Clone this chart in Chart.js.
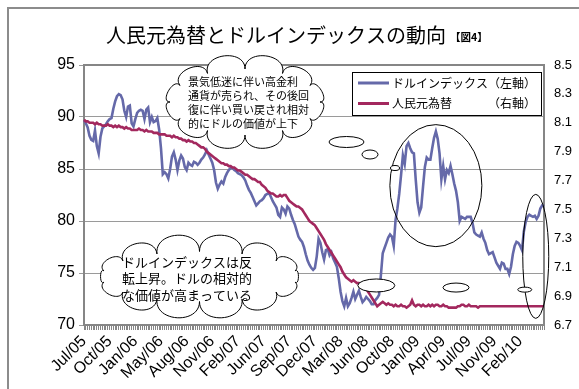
<!DOCTYPE html>
<html>
<head>
<meta charset="utf-8">
<script src="https://cdn.jsdelivr.net/npm/chart.js@4.4.1/dist/chart.umd.min.js"></script>
<style>
  html, body { margin: 0; padding: 0; background: #fff; }
  canvas { display: block; }
</style>
</head>
<body>
<canvas id="chart" width="579" height="389"></canvas>
<script>
// Axis tick labels, one every 14 weeks
const tickLabels = ['Jul/05','Oct/05','Jan/06','May/06','Aug/06','Nov/06','Feb/07','Jun/07','Sep/07','Dec/07',
  'Mar/08','Jun/08','Oct/08','Jan/09','Apr/09','Jul/09','Nov/09','Feb/10'];
const labelEvery = 14;

// Dollar index, weekly (left axis)
const dollarIndex = [
  89.7, 89.4, 89.0, 88.2, 87.8, 87.7, 88.7, 87.2, 86.5, 88.1,
  88.9, 89.1, 89.3, 89.6, 89.8, 89.9, 90.8, 91.5, 92.0, 92.2,
  92.1, 91.7, 90.6, 90.0, 91.0, 91.1, 89.4, 89.1, 89.8, 90.4,
  90.6, 90.7, 90.6, 89.8, 90.7, 90.9, 89.5, 90.0, 89.5, 89.6,
  89.9, 88.8, 87.0, 84.5, 84.7, 84.5, 84.1, 85.0, 86.2, 86.6,
  85.9, 84.9, 85.8, 86.3, 86.0, 85.2, 84.9, 85.6, 85.4, 85.3,
  85.7, 85.6, 85.4, 85.6, 85.9, 86.1, 86.4, 86.8, 86.4, 86.0,
  85.6, 84.9, 83.7, 83.1, 83.5, 83.8, 83.6, 84.2, 84.6, 84.9,
  85.1, 85.1, 84.9, 84.8, 84.6, 84.5, 84.4, 84.2, 83.9, 83.4,
  83.0, 82.7, 82.3, 81.9, 81.5, 81.7, 81.9, 82.0, 82.2, 82.5,
  82.6, 82.7, 82.3, 81.9, 81.6, 81.3, 80.6, 80.4, 81.3, 81.1,
  80.7, 81.4, 81.2, 80.6, 80.1, 79.7, 79.1, 78.5, 78.2, 78.0,
  77.5, 76.8, 76.2, 75.8, 75.5, 75.3, 75.5, 76.6, 78.3, 77.9,
  77.0, 76.3, 77.2, 77.3, 76.7, 77.0, 76.4, 76.0, 75.6, 74.5,
  73.2, 72.3, 71.8, 72.6, 71.8, 72.1, 72.6, 73.2, 72.5, 72.9,
  73.3, 72.7, 72.2, 72.4, 72.7, 72.5, 72.3, 72.0, 72.0, 72.4,
  72.6, 72.9, 74.8, 76.9, 77.4, 77.9, 78.4, 78.7, 78.5, 77.6,
  80.1, 81.2, 82.6, 84.4, 86.3, 85.5, 87.2, 87.5, 87.0, 86.6,
  86.5, 84.0, 81.8, 80.8, 81.3, 83.3, 85.2, 86.1, 85.9, 85.9,
  87.0, 88.0, 88.6, 87.9, 86.5, 84.0, 85.3, 84.0, 84.9, 84.6,
  85.3, 84.5, 83.6, 82.9, 81.8, 80.0, 80.4, 80.3, 80.2, 80.4,
  80.4, 80.4, 79.8, 78.9, 78.7, 78.6, 78.5, 78.9, 78.3, 77.9,
  77.2, 76.8, 76.9, 77.0, 76.5, 76.0, 75.7, 75.4, 76.0, 75.9,
  75.4, 75.4, 74.9, 75.6, 76.8, 77.6, 78.0, 77.9, 77.6, 77.2,
  79.0, 79.9, 80.4, 80.6, 80.5, 80.4, 80.5, 80.2, 80.5, 81.2,
  81.5, 81.4
];

// Yuan per dollar, weekly (right axis)
const yuanRate = [
  8.12, 8.11, 8.11, 8.10, 8.10, 8.10, 8.09, 8.10, 8.09, 8.09,
  8.08, 8.08, 8.08, 8.09, 8.08, 8.08, 8.07, 8.08, 8.07, 8.08,
  8.07, 8.07, 8.06, 8.07, 8.06, 8.06, 8.05, 8.05, 8.05, 8.05,
  8.06, 8.05, 8.05, 8.04, 8.05, 8.04, 8.04, 8.04, 8.03, 8.03,
  8.03, 8.02, 8.02, 8.02, 8.02, 8.01, 8.01, 8.01, 8.00, 8.01,
  8.00, 8.00, 7.99, 7.99, 7.98, 7.98, 7.97, 7.98, 7.97, 7.97,
  7.96, 7.96, 7.95, 7.94, 7.93, 7.93, 7.92, 7.90, 7.89, 7.88,
  7.87, 7.86, 7.85, 7.84, 7.83, 7.82, 7.82, 7.81, 7.81, 7.80,
  7.80, 7.79, 7.79, 7.78, 7.77, 7.77, 7.76, 7.75, 7.74, 7.74,
  7.73, 7.72, 7.71, 7.71, 7.70, 7.69, 7.69, 7.67, 7.66, 7.65,
  7.63, 7.62, 7.61, 7.61, 7.60, 7.59, 7.59, 7.60, 7.59, 7.60,
  7.60, 7.58, 7.56, 7.55, 7.54, 7.53, 7.52, 7.52, 7.51, 7.50,
  7.48, 7.46, 7.44, 7.42, 7.41, 7.40, 7.39, 7.37, 7.35, 7.33,
  7.31, 7.29, 7.26, 7.24, 7.22, 7.20, 7.18, 7.16, 7.14, 7.12,
  7.10, 7.07, 7.05, 7.03, 7.02, 7.01, 7.00, 7.01, 7.00, 6.99,
  6.99, 6.98, 6.97, 6.96, 6.95, 6.93, 6.91, 6.89, 6.87, 6.85,
  6.83, 6.84, 6.85, 6.86, 6.85, 6.84, 6.85, 6.84, 6.84, 6.83,
  6.84, 6.83, 6.83, 6.84, 6.83, 6.83, 6.82, 6.83, 6.84, 6.87,
  6.84, 6.83, 6.84, 6.84, 6.83, 6.84, 6.83, 6.83, 6.84, 6.83,
  6.84, 6.83, 6.84, 6.84, 6.83, 6.83, 6.84, 6.83, 6.83, 6.82,
  6.82, 6.82, 6.82, 6.82, 6.83, 6.83, 6.84, 6.84, 6.83, 6.83,
  6.84, 6.83, 6.83, 6.83, 6.83, 6.82, 6.83, 6.83, 6.83, 6.83,
  6.83, 6.83, 6.83, 6.83, 6.83, 6.83, 6.83, 6.83, 6.83, 6.83,
  6.83, 6.83, 6.83, 6.83, 6.83, 6.83, 6.83, 6.83, 6.83, 6.83,
  6.83, 6.83, 6.83, 6.83, 6.83, 6.83, 6.83, 6.83, 6.83, 6.83,
  6.83, 6.83
];

const seriesNames = ['ドルインデックス（左軸）', '人民元為替'];
const rightAxisTag = '（右軸）';
const titleText = '人民元為替とドルインデックスの動向';
const figTag = '【図4】';
const noteUpper = ['景気低迷に伴い高金利', '通貨が売られ、その後回', '復に伴い買い戻され相対', '的にドルの価値が上下'];
const noteLower = ['ドルインデックスは反', '転上昇。ドルの相対的', 'な価値が高まっている'];

const weeks = dollarIndex.map((_, i) => i);

const JP = '"Noto Sans CJK JP", "Noto Sans", sans-serif';
const NUM = '"Liberation Sans", Arial, sans-serif';
const BLUE = '#6569a9';
const RED = '#a3285e';
const AXIS = '#868686';

// Cloud-shaped callout: bumps laid around an ellipse
function cloud(ctx, cx, cy, rx, ry, n, phase) {
  const pts = [];
  for (let k = 0; k < n; k++) {
    const a = phase + 2 * Math.PI * k / n;
    let nx = Math.cos(a) / rx, ny = Math.sin(a) / ry;
    const len = Math.hypot(nx, ny);
    pts.push({ x: cx + rx * Math.cos(a), y: cy + ry * Math.sin(a), nx: nx / len, ny: ny / len });
  }
  ctx.beginPath();
  ctx.moveTo(pts[0].x, pts[0].y);
  for (let k = 0; k < n; k++) {
    const p = pts[k], q = pts[(k + 1) % n];
    const b = 0.55 * Math.hypot(q.x - p.x, q.y - p.y);
    ctx.bezierCurveTo(p.x + p.nx * b, p.y + p.ny * b, q.x + q.nx * b, q.y + q.ny * b, q.x, q.y);
  }
  ctx.closePath();
  ctx.fillStyle = '#fff';
  ctx.fill();
  ctx.strokeStyle = '#000';
  ctx.lineWidth = 1;
  ctx.stroke();
}

function ellipse(ctx, cx, cy, rx, ry, filled) {
  ctx.beginPath();
  ctx.ellipse(cx, cy, rx, ry, 0, 0, Math.PI * 2);
  if (filled) { ctx.fillStyle = '#fff'; ctx.fill(); }
  ctx.strokeStyle = '#000';
  ctx.lineWidth = 1;
  ctx.stroke();
}

const decor = {
  id: 'decor',
  beforeDraw(chart) {
    const ctx = chart.ctx;
    ctx.save();
    ctx.fillStyle = '#fff';
    ctx.fillRect(0, 0, chart.width, chart.height);
    ctx.strokeStyle = '#8c8c8c';
    ctx.lineWidth = 2;
    ctx.strokeRect(8, 8, chart.width + 20, chart.height + 20);
    ctx.fillStyle = '#000';
    ctx.textBaseline = 'middle';
    ctx.textAlign = 'left';
    ctx.font = '20px ' + JP;
    ctx.fillText(titleText, 106, 35);
    const w = ctx.measureText(titleText).width;
    ctx.font = 'bold 10.5px ' + JP;
    ctx.fillText(figTag, 106 + w + 4, 37);
    ctx.restore();
  },
  beforeDatasetsDraw(chart) {
    const { ctx, chartArea: a } = chart;
    ctx.save();
    ctx.strokeStyle = AXIS;
    ctx.lineWidth = 2;
    ctx.beginPath();
    ctx.moveTo(a.left, a.top);
    ctx.lineTo(a.right, a.top);
    ctx.stroke();
    ctx.restore();
  },
  afterDatasetsDraw(chart) {
    const ctx = chart.ctx;
    const xs = chart.scales.x, ys = chart.scales.y;
    const at = (i, v) => [xs.getPixelForValue(i), ys.getPixelForValue(v)];
    ctx.save();

    // rings around notable stretches of the dollar index
    let p = at(192, 83.4); ellipse(ctx, p[0], p[1], 46, 61, false);
    p = at(246.5, 76.6); ellipse(ctx, p[0], p[1], 13, 62, false);
    p = at(159.5, 73.8); ellipse(ctx, p[0], p[1], 18.5, 6.5, true);
    p = at(203, 73.6); ellipse(ctx, p[0], p[1], 13, 4.5, true);
    p = at(240.5, 73.4); ellipse(ctx, p[0], p[1], 7, 2.5, true);

    // callout clouds
    cloud(ctx, 245, 102, 75, 33, 12, -Math.PI / 2);
    ellipse(ctx, 346.5, 142, 17.5, 5.5, true);
    ellipse(ctx, 370, 154.5, 8, 4.5, true);
    ellipse(ctx, 395, 168, 4.5, 2.5, true);
    cloud(ctx, 199.5, 276.5, 98, 25, 14, -Math.PI / 2);

    ctx.fillStyle = '#000';
    ctx.textAlign = 'left';
    ctx.textBaseline = 'middle';
    ctx.font = '11px ' + JP;
    noteUpper.forEach((t, k) => ctx.fillText(t, 188, 82 + k * 14));
    ctx.font = '13px ' + JP;
    noteLower.forEach((t, k) => ctx.fillText(t, 122, 262 + k * 16.5));

    // legend
    ctx.fillStyle = '#fff';
    ctx.fillRect(352, 72, 189, 43);
    ctx.strokeStyle = '#000';
    ctx.lineWidth = 1;
    ctx.strokeRect(352.5, 72.5, 189, 43);
    const rows = [[BLUE, seriesNames[0], 83], [RED, seriesNames[1], 103.5]];
    rows.forEach(([c, t, y]) => {
      ctx.strokeStyle = c;
      ctx.lineWidth = 3;
      ctx.beginPath();
      ctx.moveTo(358, y);
      ctx.lineTo(389, y);
      ctx.stroke();
      ctx.fillStyle = '#000';
      ctx.font = '12px ' + JP;
      ctx.fillText(t, 392, y);
    });
    ctx.fillText(rightAxisTag, 488, 103.5);
    ctx.restore();
  }
};

new Chart(document.getElementById('chart'), {
  type: 'line',
  data: {
    labels: weeks,
    datasets: [
      { label: seriesNames[0], data: dollarIndex, yAxisID: 'y', borderColor: BLUE,
        borderWidth: 2.6, pointRadius: 0, tension: 0, order: 1 },
      { label: seriesNames[1], data: yuanRate, yAxisID: 'y1', borderColor: RED,
        borderWidth: 2.6, pointRadius: 0, tension: 0, order: 0 }
    ]
  },
  options: {
    responsive: false,
    animation: false,
    devicePixelRatio: 1,
    events: [],
    layout: { padding: { top: 65, left: 0, right: 0, bottom: 0 } },
    plugins: { legend: { display: false }, title: { display: false }, tooltip: { enabled: false } },
    scales: {
      x: {
        type: 'category',
        offset: false,
        afterFit(s) { s.height = 64; },
        grid: { display: true, drawOnChartArea: false, drawTicks: true, tickLength: 5, color: AXIS, lineWidth: 1 },
        border: { display: true, color: AXIS, width: 2 },
        ticks: {
          autoSkip: false, minRotation: 45, maxRotation: 45, padding: 2,
          color: '#000', font: { family: NUM, size: 16 },
          callback(v, i) { return i % labelEvery === 0 ? (tickLabels[i / labelEvery] || '') : ''; }
        }
      },
      y: {
        position: 'left',
        min: 70, max: 95,
        afterFit(s) { s.width = 84; },
        grid: { color: '#9a9a9a', lineWidth: 1, drawTicks: true, tickLength: 5 },
        border: { display: true, color: AXIS, width: 2 },
        ticks: { stepSize: 5, padding: 4, color: '#000', font: { family: NUM, size: 16 } }
      },
      y1: {
        position: 'right',
        min: 6.7, max: 8.5,
        afterFit(s) { s.width = 35; },
        grid: { drawOnChartArea: false, drawTicks: false },
        border: { display: true, color: AXIS, width: 2 },
        ticks: { stepSize: 0.2, padding: 10, color: '#000', font: { family: NUM, size: 13 },
          callback(v) { return Number(v).toFixed(1); } }
      }
    }
  },
  plugins: [decor]
});
</script>
</body>
</html>
